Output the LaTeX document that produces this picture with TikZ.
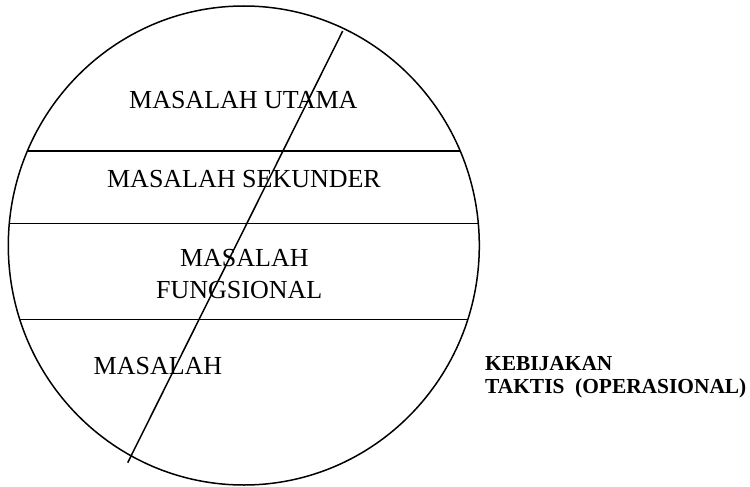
\documentclass[tikz,border=0pt]{standalone}
\usepackage{fontspec}
\setmainfont{Liberation Serif}
\tikzset{
  shape line/.style={draw=black, line width=1.5pt},
  label text/.style={inner sep=0pt, anchor=base, font=\fontsize{26}{29}\selectfont},
  side text/.style={inner sep=0pt, anchor=base west, font=\bfseries\fontsize{21.4}{23.3}\selectfont}
}
\begin{document}
\begin{tikzpicture}[x=1pt,y=-1pt]
\useasboundingbox (0,0) rectangle (750,487);
\draw[shape line] (243.8,245.5) ellipse [x radius=235.5, y radius=239.5];
\coordinate (l1a) at (27.4,151);
\coordinate (l1b) at (460.2,151);
\coordinate (l2a) at (9.3,223.3);
\coordinate (l2b) at (478.3,223.3);
\coordinate (l3a) at (19.8,319.3);
\coordinate (l3b) at (467.8,319.3);
\coordinate (dtop) at (342.7,31);
\coordinate (dbot) at (127.7,462.7);
\draw[shape line] (l1a) -- (l1b);
\draw[shape line] (l2a) -- (l2b);
\draw[shape line] (l3a) -- (l3b);
\draw[shape line] (dtop) -- (dbot);
\node[label text] (utama) at (243.3,109) {MASALAH UTAMA};
\node[label text] (sekunder) at (244,187.3) {MASALAH SEKUNDER};
\node[label text] (fung1) at (244.3,266.7) {MASALAH};
\node[label text] (fung2) at (239.2,298.3) {FUNGSIONAL};
\node[label text] (masalah) at (158,374) {MASALAH};
\node[side text] (kebijakan) at (485,370) {KEBIJAKAN};
\node[side text] (taktis) at (485,393.3) {TAKTIS\ \ (OPERASIONAL)};
\end{tikzpicture}
\end{document}
